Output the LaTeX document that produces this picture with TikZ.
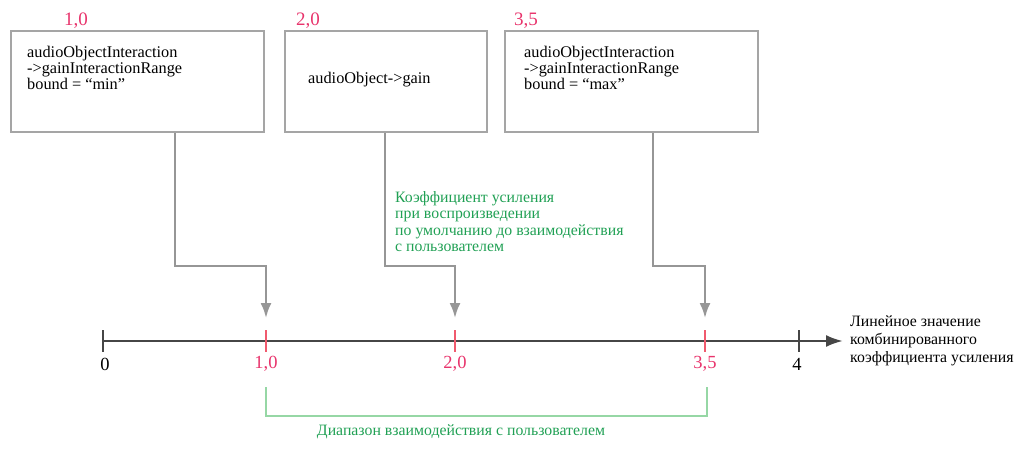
\documentclass[tikz,border=0pt]{standalone}
\usepackage{fontspec}
\setmainfont{Liberation Serif}
\usetikzlibrary{arrows.meta}
\definecolor{valred}{RGB}{232,52,108}
\definecolor{tickred}{RGB}{240,90,110}
\definecolor{txtgreen}{RGB}{32,160,84}
\definecolor{brgreen}{RGB}{150,215,165}
\definecolor{boxgray}{RGB}{165,165,165}
\definecolor{lngray}{RGB}{150,150,150}
\definecolor{axgray}{RGB}{70,70,70}
\begin{document}
\begin{tikzpicture}[x=1pt,y=-1pt,
  srcbox/.style={draw=boxgray,line width=2pt,minimum width=253pt,minimum height=101pt,inner sep=0pt},
  boxtext/.style={font=\fontsize{16.3}{16}\selectfont,align=left,inner sep=0pt,anchor=north west},
  vallabel/.style={text=valred,font=\fontsize{19}{19}\selectfont,inner sep=0pt},
  ticklabel/.style={font=\fontsize{18.5}{18.5}\selectfont,inner sep=0pt},
  conn/.style={draw=lngray,line width=2.2pt,-{Latex[length=15pt,width=11pt]}},
  axisline/.style={draw=axgray,line width=2.5pt,-{Latex[length=17pt,width=12pt]}},
  blacktick/.style={draw=axgray,line width=2.5pt},
  redtick/.style={draw=tickred,line width=2.5pt},
  bracket/.style={draw=brgreen,line width=2.5pt},
  greentext/.style={text=txtgreen,font=\fontsize{15.8}{16.5}\selectfont,align=left,inner sep=0pt},
]
\useasboundingbox (0,0) rectangle (1016,470);

% source boxes
\node[srcbox] (b1) at (137.5,81.5) {};
\node[srcbox,minimum width=202pt] (b2) at (386,81.5) {};
\node[srcbox] (b3) at (631,81.5) {};

\node[boxtext] (t1) at (27,46) {audioObjectInteraction\\->gainInteractionRange\\bound = “min”};
\node[boxtext,anchor=west] (t2) at (308,80) {audioObject->gain};
\node[boxtext] (t3) at (524,46) {audioObjectInteraction\\->gainInteractionRange\\bound = “max”};

% values above the boxes
\node[vallabel] (v1) at (76,21) {1,0};
\node[vallabel] (v2) at (308,21) {2,0};
\node[vallabel] (v3) at (526,21) {3,5};

% axis
\coordinate (a0) at (103,341);
\coordinate (aend) at (843,341);
\draw[axisline] (a0) -- (aend);

\coordinate (k0) at (103,330);
\coordinate (k1) at (266,330);
\coordinate (k2) at (455,330);
\coordinate (k3) at (705,330);
\coordinate (k4) at (799,330);
\draw[blacktick] (k0) -- ++(0,22);
\draw[blacktick] (k4) -- ++(0,22);
\draw[redtick] (k1) -- ++(0,22);
\draw[redtick] (k2) -- ++(0,22);
\draw[redtick] (k3) -- ++(0,22);

\node[ticklabel] (l0) at (105,364) {0};
\node[ticklabel,text=valred] (l1) at (266,364) {1,0};
\node[ticklabel,text=valred] (l2) at (455,364) {2,0};
\node[ticklabel,text=valred] (l3) at (705,364) {3,5};
\node[ticklabel] (l4) at (797,364) {4};

\node[font=\fontsize{15.8}{18}\selectfont,align=left,anchor=west,inner sep=0pt] (axlab) at (850,341)
  {Линейное значение\\комбинированного\\коэффициента усиления};

% connectors from the boxes to the axis
\coordinate (e1) at (266,318);
\coordinate (e2) at (455,318);
\coordinate (e3) at (705,318);
\draw[conn] ([xshift=37.5pt]b1.south) -- ++(0,133) -| (e1);
\draw[conn] ([xshift=-1pt]b2.south) -- ++(0,133) -| (e2);
\draw[conn] ([xshift=22pt]b3.south) -- ++(0,133) -| (e3);

\node[greentext,anchor=north west] (g1) at (395,191)
  {Коэффициент усиления\\при воспроизведении\\по умолчанию до взаимодействия\\с пользователем};

% interaction range bracket
\coordinate (r1) at (266,387);
\coordinate (r2) at (707,387);
\draw[bracket] (r1) |- (r2 |- 0,416) -- (r2);
\node[greentext] (rlab) at (461,432) {Диапазон взаимодействия с пользователем};
\end{tikzpicture}
\end{document}
